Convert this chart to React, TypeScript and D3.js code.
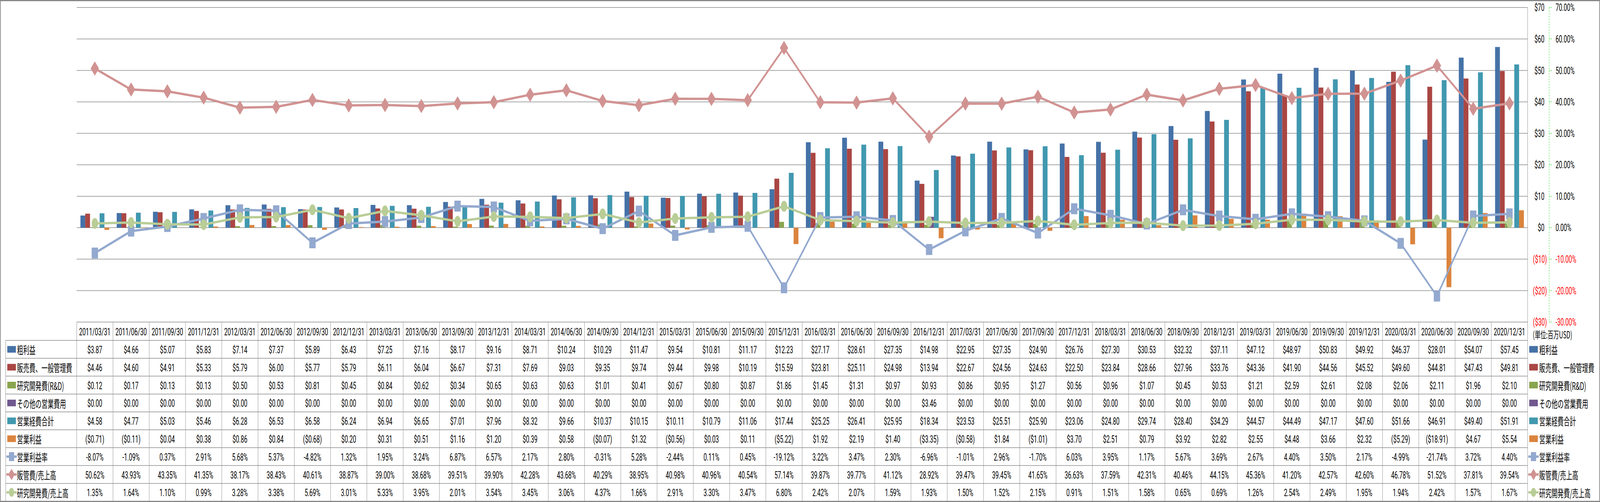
import React, { useEffect } from 'react';
import * as d3 from 'd3';

// quarterly data, million USD
const dates = [
  '2011/03/31', '2011/06/30', '2011/09/30', '2011/12/31',
  '2012/03/31', '2012/06/30', '2012/09/30', '2012/12/31',
  '2013/03/31', '2013/06/30', '2013/09/30', '2013/12/31',
  '2014/03/31', '2014/06/30', '2014/09/30', '2014/12/31',
  '2015/03/31', '2015/06/30', '2015/09/30', '2015/12/31',
  '2016/03/31', '2016/06/30', '2016/09/30', '2016/12/31',
  '2017/03/31', '2017/06/30', '2017/09/30', '2017/12/31',
  '2018/03/31', '2018/06/30', '2018/09/30', '2018/12/31',
  '2019/03/31', '2019/06/30', '2019/09/30', '2019/12/31',
  '2020/03/31', '2020/06/30', '2020/09/30', '2020/12/31',
];

const grossProfit = [3.87, 4.66, 5.07, 5.83, 7.14, 7.37, 5.89, 6.43, 7.25, 7.16, 8.17, 9.16, 8.71, 10.24, 10.29, 11.47, 9.54, 10.81, 11.17, 12.23, 27.17, 28.61, 27.35, 14.98, 22.95, 27.35, 24.90, 26.76, 27.30, 30.53, 32.32, 37.11, 47.12, 48.97, 50.83, 49.92, 46.37, 28.01, 54.07, 57.45];
const sga = [4.46, 4.60, 4.91, 5.33, 5.79, 6.00, 5.77, 5.79, 6.11, 6.04, 6.67, 7.31, 7.69, 9.03, 9.35, 9.74, 9.44, 9.98, 10.19, 15.59, 23.81, 25.11, 24.98, 13.94, 22.67, 24.56, 24.63, 22.50, 23.84, 28.66, 27.96, 33.76, 43.36, 41.90, 44.56, 45.52, 49.60, 44.81, 47.43, 49.81];
const rnd = [0.12, 0.17, 0.13, 0.13, 0.50, 0.53, 0.81, 0.45, 0.84, 0.62, 0.34, 0.65, 0.63, 0.63, 1.01, 0.41, 0.67, 0.80, 0.87, 1.86, 1.45, 1.31, 0.97, 0.93, 0.86, 0.95, 1.27, 0.56, 0.96, 1.07, 0.45, 0.53, 1.21, 2.59, 2.61, 2.08, 2.06, 2.11, 1.96, 2.10];
const otherOpex = [0, 0, 0, 0, 0, 0, 0, 0, 0, 0, 0, 0, 0, 0, 0, 0, 0, 0, 0, 0, 0, 0, 0, 3.46, 0, 0, 0, 0, 0, 0, 0, 0, 0, 0, 0, 0, 0, 0, 0, 0];
const opexTotal = [4.58, 4.77, 5.03, 5.46, 6.28, 6.53, 6.58, 6.24, 6.94, 6.65, 7.01, 7.96, 8.32, 9.66, 10.37, 10.15, 10.11, 10.79, 11.06, 17.44, 25.25, 26.41, 25.95, 18.34, 23.53, 25.51, 25.90, 23.06, 24.80, 29.74, 28.40, 34.29, 44.57, 44.49, 47.17, 47.60, 51.66, 46.91, 49.40, 51.91];
const opIncome = [-0.71, -0.11, 0.04, 0.38, 0.86, 0.84, -0.68, 0.20, 0.31, 0.51, 1.16, 1.20, 0.39, 0.58, -0.07, 1.32, -0.56, 0.03, 0.11, -5.22, 1.92, 2.19, 1.40, -3.35, -0.58, 1.84, -1.01, 3.70, 2.51, 0.79, 3.92, 2.82, 2.55, 4.48, 3.66, 2.32, -5.29, -18.91, 4.67, 5.54];
// percentages
const opMargin = [-8.07, -1.09, 0.37, 2.91, 5.68, 5.37, -4.82, 1.32, 1.95, 3.24, 6.87, 6.57, 2.17, 2.80, -0.31, 5.28, -2.44, 0.11, 0.45, -19.12, 3.22, 3.47, 2.30, -6.96, -1.01, 2.96, -1.70, 6.03, 3.95, 1.17, 5.67, 3.69, 2.67, 4.40, 3.50, 2.17, -4.99, -21.74, 3.72, 4.40];
const sgaRatio = [50.62, 43.93, 43.35, 41.35, 38.17, 38.43, 40.61, 38.87, 39.00, 38.68, 39.51, 39.90, 42.28, 43.68, 40.29, 38.95, 40.98, 40.96, 40.54, 57.14, 39.87, 39.77, 41.12, 28.92, 39.47, 39.45, 41.65, 36.63, 37.59, 42.31, 40.46, 44.15, 45.36, 41.20, 42.57, 42.60, 46.78, 51.52, 37.81, 39.54];
const rndRatio = [1.35, 1.64, 1.10, 0.99, 3.28, 3.38, 5.69, 3.01, 5.33, 3.95, 2.01, 3.54, 3.45, 3.06, 4.37, 1.66, 2.91, 3.30, 3.47, 6.80, 2.42, 2.07, 1.59, 1.93, 1.50, 1.52, 2.15, 0.91, 1.51, 1.58, 0.65, 0.69, 1.26, 2.54, 2.49, 1.95, 1.94, 2.42, 1.57, 1.67];

const W = 7052, H = 1286;
const plotL = 338, plotR = 6733, plotT = 19.3, plotB = 825;
const tableL = 25, headerB = 872, rowH = 45.8;
const NUM_FONT = "Roboto, 'Noto Sans CJK JP', sans-serif";
const JP_FONT = "'Noto Sans CJK JP', sans-serif";
const GRID = '#8a8a8a';

const barSeries = [
  { name: '粗利益', values: grossProfit, color: '#4572A7' },
  { name: '販売費、一般管理費', values: sga, color: '#AA4643' },
  { name: '研究開発費(R&D)', values: rnd, color: '#89A54E' },
  { name: 'その他の営業費用', values: otherOpex, color: '#71588F' },
  { name: '営業経費合計', values: opexTotal, color: '#4198AF' },
  { name: '営業利益', values: opIncome, color: '#DB843D' },
];
const lineSeries = [
  { name: '営業利益率', values: opMargin, color: '#93A9CF', marker: 'square' },
  { name: '販管費/売上高', values: sgaRatio, color: '#D19392', marker: 'diamond' },
  { name: '研究開発費/売上高', values: rndRatio, color: '#B9CD96', marker: 'circle' },
];

const fmtUsd = (v: number) => (v < 0 ? `($${(-v).toFixed(2)})` : `$${v.toFixed(2)}`);
const fmtPct = (v: number) => `${v.toFixed(2)}%`;

const markerPath = (kind: string, s: number) => {
  if (kind === 'circle') return d3.symbol().type(d3.symbolCircle).size(Math.PI * (s / 2) ** 2)()!;
  if (kind === 'diamond') return d3.symbol().type(d3.symbolSquare).size((s / Math.SQRT2) ** 2)()!;
  return d3.symbol().type(d3.symbolSquare).size(s * s)()!;
};

const Marker = ({ kind, x, y, color, size }: any) => (
  <path
    d={markerPath(kind, size)}
    transform={`translate(${x},${y})${kind === 'diamond' ? ' rotate(45)' : ''}`}
    fill={color}
    stroke={color}
    strokeWidth={2}
    strokeLinejoin="round"
  />
);

const LegendKey = ({ s, x, y }: any) =>
  s.marker ? (
    <g>
      <line x1={x - 4} x2={x + 42} y1={y} y2={y} stroke={s.color} strokeWidth={6} />
      <Marker kind={s.marker} x={x + 19} y={y} color={s.color} size={s.marker === 'diamond' ? 26 : 21} />
    </g>
  ) : (
    <rect x={x} y={y - 8.5} width={38} height={17} fill={s.color} />
  );

export default function App() {
  useEffect(() => {
    document.body.style.margin = '0';
    document.body.style.overflow = 'hidden';
  }, []);

  const x = d3.scaleBand<string>().domain(dates).range([plotL, plotR]);
  const bw = x.bandwidth();
  const xi = d3
    .scaleBand<string>()
    .domain(barSeries.map((s) => s.name))
    .range([bw * 0.103, bw * 0.897]);
  const y = d3.scaleLinear().domain([-30, 70]).range([plotB, plotT]);
  const yp = d3.scaleLinear().domain([-30, 70]).range([plotB, plotT]);
  const ticks = y.ticks(10);
  const cx = (i: number) => x(dates[i])! + bw / 2;

  const line = d3
    .line<number>()
    .x((_, i) => cx(i))
    .y((v) => yp(v));

  const tableRows = [
    ...barSeries.map((s) => ({ ...s, fmt: fmtUsd })),
    ...lineSeries.map((s) => ({ ...s, fmt: fmtPct })),
  ];
  const rowY = (r: number) => headerB + r * rowH;

  return (
    <svg
      viewBox={`0 0 ${W} ${H}`}
      preserveAspectRatio="none"
      style={{ display: 'block', width: '100vw', height: '100vh', background: '#fff' }}
    >
      <rect x={1.5} y={1.5} width={W - 3} height={H - 3} fill="#fff" stroke="#878787" strokeWidth={3} />

      {/* gridlines */}
      {ticks.map((t) => (
        <line key={t} x1={plotL} x2={plotR} y1={y(t)} y2={y(t)} stroke={GRID} strokeWidth={1.5} />
      ))}
      <line x1={plotR} x2={plotR} y1={plotT} y2={plotB} stroke={GRID} strokeWidth={1.5} />

      {/* bars */}
      {barSeries.map((s) => (
        <g key={s.name}>
          {s.values.map((v, i) =>
            v === 0 ? null : (
              <rect
                key={i}
                x={x(dates[i])! + xi(s.name)!}
                width={xi.bandwidth()}
                y={y(Math.max(0, v))}
                height={Math.abs(y(v) - y(0))}
                fill={s.color}
              />
            )
          )}
        </g>
      ))}

      {/* lines */}
      {lineSeries.map((s) => (
        <g key={s.name}>
          <path d={line(s.values)!} fill="none" stroke={s.color} strokeWidth={6} strokeLinejoin="round" />
          {s.values.map((v, i) => (
            <Marker key={i} kind={s.marker} x={cx(i)} y={yp(v)} color={s.color} size={s.marker === 'diamond' ? 34 : 26} />
          ))}
        </g>
      ))}

      {/* left value axis (USD), drawn on the right */}
      {ticks.map((t) => (
        <text
          key={t}
          x={t < 0 ? 6818 : 6807}
          y={y(t)}
          textAnchor="end"
          dominantBaseline="central"
          fontFamily={NUM_FONT}
          fontSize={26}
          fill={t < 0 ? '#FF0000' : '#000'}
        >
          {t < 0 ? `($${-t})` : `$${t}`}
        </text>
      ))}

      {/* secondary axis (%) */}
      <line x1={6828} x2={6828} y1={plotT} y2={plotB} stroke="#22dd22" strokeWidth={1.5} strokeDasharray="4,3" />
      {ticks.map((t) => (
        <g key={t}>
          <line x1={6828} x2={6839} y1={yp(t)} y2={yp(t)} stroke="#22dd22" strokeWidth={1.5} strokeDasharray="4,3" />
          <text
            x={6856}
            y={yp(t)}
            dominantBaseline="central"
            fontFamily={NUM_FONT}
            fontSize={26}
            fill={t < 0 ? '#FF0000' : '#000'}
          >
            {fmtPct(t)}
          </text>
        </g>
      ))}

      {/* data table */}
      <g stroke={GRID} strokeWidth={1.5}>
        {dates.map((d) => (
          <line key={d} x1={x(d)!} x2={x(d)!} y1={plotB} y2={rowY(tableRows.length)} />
        ))}
        <line x1={plotR} x2={plotR} y1={plotB} y2={rowY(tableRows.length)} />
        <line x1={tableL} x2={tableL} y1={headerB} y2={rowY(tableRows.length)} />
        {tableRows.map((_, r) => (
          <line key={r} x1={tableL} x2={plotR} y1={rowY(r)} y2={rowY(r)} />
        ))}
        <line x1={tableL} x2={plotR} y1={rowY(tableRows.length)} y2={rowY(tableRows.length)} />
      </g>
      {dates.map((d) => (
        <text
          key={d}
          x={x(d)! + bw / 2}
          y={(plotB + headerB) / 2 + 1}
          textAnchor="middle"
          dominantBaseline="central"
          fontFamily={NUM_FONT}
          fontSize={26}
        >
          {d}
        </text>
      ))}
      {tableRows.map((s, r) => (
        <g key={s.name}>
          <LegendKey s={s} x={32} y={rowY(r) + rowH / 2} />
          <text x={75} y={rowY(r) + rowH / 2} dominantBaseline="central" fontFamily={JP_FONT} fontSize={27}>
            {s.name}
          </text>
          {s.values.map((v, i) => (
            <text
              key={i}
              x={cx(i)}
              y={rowY(r) + rowH / 2 + 1}
              textAnchor="middle"
              dominantBaseline="central"
              fontFamily={NUM_FONT}
              fontSize={26}
            >
              {s.fmt(v)}
            </text>
          ))}
        </g>
      ))}

      {/* legend column */}
      <text x={6756} y={(plotB + headerB) / 2 + 8} dominantBaseline="central" fontFamily={JP_FONT} fontSize={25}>
        (単位:百万USD)
      </text>
      {tableRows.map((s, r) => (
        <g key={s.name}>
          <LegendKey s={s} x={6740} y={rowY(r) + rowH / 2} />
          <text x={6784} y={rowY(r) + rowH / 2} dominantBaseline="central" fontFamily={JP_FONT} fontSize={27}>
            {s.name}
          </text>
        </g>
      ))}
    </svg>
  );
}
